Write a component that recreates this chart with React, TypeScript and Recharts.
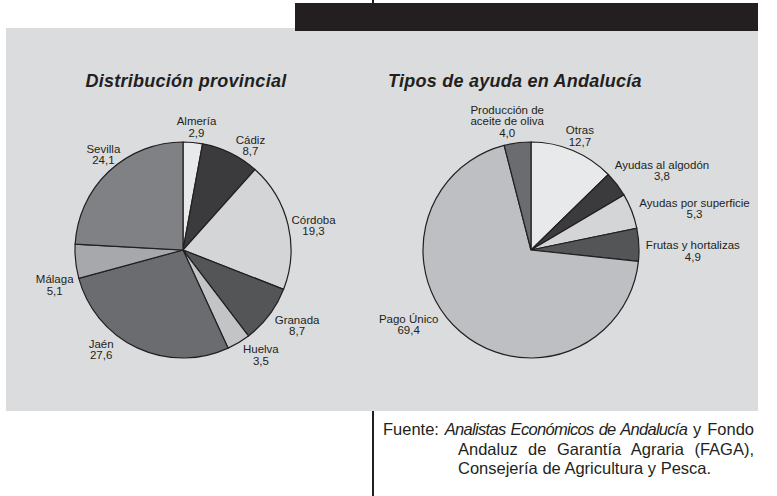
import { Cell, Pie, PieChart } from "recharts";

const provinces = ["Almería", "Cádiz", "Córdoba", "Granada", "Huelva", "Jaén", "Málaga", "Sevilla"];
const provinceShares = [2.9, 8.7, 19.3, 8.7, 3.5, 27.6, 5.1, 24.1];

const aidTypes = [
  "Otras",
  "Ayudas al algodón",
  "Ayudas por superficie",
  "Frutas y hortalizas",
  "Pago Único",
  "Producción de\naceite de oliva",
];
const aidShares = [12.7, 3.8, 5.3, 4.9, 69.4, 4.0];

const provinceFills = ["#e8e9ea", "#3b3b3d", "#d4d5d7", "#545557", "#c3c4c6", "#6b6c6f", "#a7a8ab", "#808184"];
const aidFills = ["#e8e9ea", "#3b3b3d", "#d4d5d7", "#545557", "#bebfc2", "#6b6c6f"];

// label nudges relative to the point just outside each slice
const provinceNudge: [number, number][] = [
  [2, 2.5], [12, 8.5], [8, 5], [13.5, -0.5], [13, -3], [-28.5, -14.5], [-3, 22], [7, -4],
];
const aidNudge: [number, number][] = [
  [0, 2], [31, -3], [46, 4], [36, 7], [-40, -21], [-8, -3.5],
];

const provinceData = provinces.map((name, i) => ({ name, value: provinceShares[i] }));
const aidData = aidTypes.map((name, i) => ({ name, value: aidShares[i] }));

const INK = "#231f20";
const RAD = Math.PI / 180;
const fmt = (v: number) => v.toFixed(1).replace(".", ",");

function sliceLabel(nudges: [number, number][]) {
  return (props: any) => {
    const { cx, cy, midAngle, outerRadius, index, value } = props;
    const name: string = props.name ?? props.payload?.name ?? "";
    const r = outerRadius + 18;
    const x = cx + r * Math.cos(-midAngle * RAD) + nudges[index][0];
    const y = cy + r * Math.sin(-midAngle * RAD) + nudges[index][1];
    const lines = [...name.split("\n"), fmt(value)];
    const lh = 11.5;
    const top = y - ((lines.length - 1) * lh) / 2;
    return (
      <text
        key={`l-${index}`}
        x={x}
        y={top}
        textAnchor="middle"
        dominantBaseline="central"
        fontSize={11.5}
        fontFamily="'Liberation Sans', Arial, sans-serif"
        fill={INK}
      >
        {lines.map((t, k) => (
          <tspan key={k} x={x} y={top + k * lh}>
            {t}
          </tspan>
        ))}
      </text>
    );
  };
}

const titleStyle = {
  position: "absolute" as const,
  top: 70,
  fontFamily: "'Liberation Sans', Arial, sans-serif",
  fontWeight: 700,
  fontStyle: "italic",
  fontSize: 18,
  letterSpacing: 0.25,
  color: INK,
  lineHeight: "22px",
  whiteSpace: "nowrap" as const,
};

export default function App() {
  return (
    <div style={{ position: "absolute", left: 0, top: 0, width: 777, height: 496, background: "#fff", overflow: "hidden" }}>
      <div style={{ position: "absolute", left: 6, top: 28, width: 752, height: 383, background: "#dbdcde" }} />
      <div style={{ position: "absolute", left: 295, top: 3, width: 463, height: 28, background: INK }} />
      <div style={{ position: "absolute", left: 372, top: 0, width: 1.5, height: 3, background: INK }} />
      <div style={{ position: "absolute", left: 372, top: 411, width: 1.5, height: 85, background: INK }} />

      <div style={{ ...titleStyle, left: 66, width: 240, textAlign: "center" }}>Distribución provincial</div>
      <div style={{ ...titleStyle, left: 388 }}>Tipos de ayuda en Andalucía</div>

      <div style={{ position: "absolute", left: 0, top: 0 }}>
        <PieChart width={777} height={496} margin={{ top: 0, right: 0, bottom: 0, left: 0 }}>
          <Pie
            data={provinceData}
            dataKey="value"
            nameKey="name"
            cx={183}
            cy={250}
            outerRadius={108}
            startAngle={90}
            endAngle={-270}
            stroke={INK}
            strokeWidth={1.2}
            labelLine={false}
            label={sliceLabel(provinceNudge)}
            isAnimationActive={false}
          >
            {provinceData.map((d, i) => (
              <Cell key={d.name} fill={provinceFills[i]} />
            ))}
          </Pie>
          <Pie
            data={aidData}
            dataKey="value"
            nameKey="name"
            cx={531}
            cy={250}
            outerRadius={108}
            startAngle={90}
            endAngle={-270}
            stroke={INK}
            strokeWidth={1.2}
            labelLine={false}
            label={sliceLabel(aidNudge)}
            isAnimationActive={false}
          >
            {aidData.map((d, i) => (
              <Cell key={d.name} fill={aidFills[i]} />
            ))}
          </Pie>
        </PieChart>
      </div>

      <div
        style={{
          position: "absolute",
          left: 383,
          top: 420,
          width: 371,
          fontFamily: "'Liberation Sans', Arial, sans-serif",
          fontSize: 16.5,
          lineHeight: "19.5px",
          color: INK,
          textAlign: "justify",
        }}
      >
        <div style={{ textAlignLast: "justify" }}>
          Fuente: <i style={{ letterSpacing: -0.7 }}>Analistas Económicos de Andalucía</i> y Fondo
        </div>
        <div style={{ paddingLeft: 75, textAlignLast: "justify" }}>Andaluz de Garantía Agraria (FAGA),</div>
        <div style={{ paddingLeft: 75 }}>Consejería de Agricultura y Pesca.</div>
      </div>
    </div>
  );
}
